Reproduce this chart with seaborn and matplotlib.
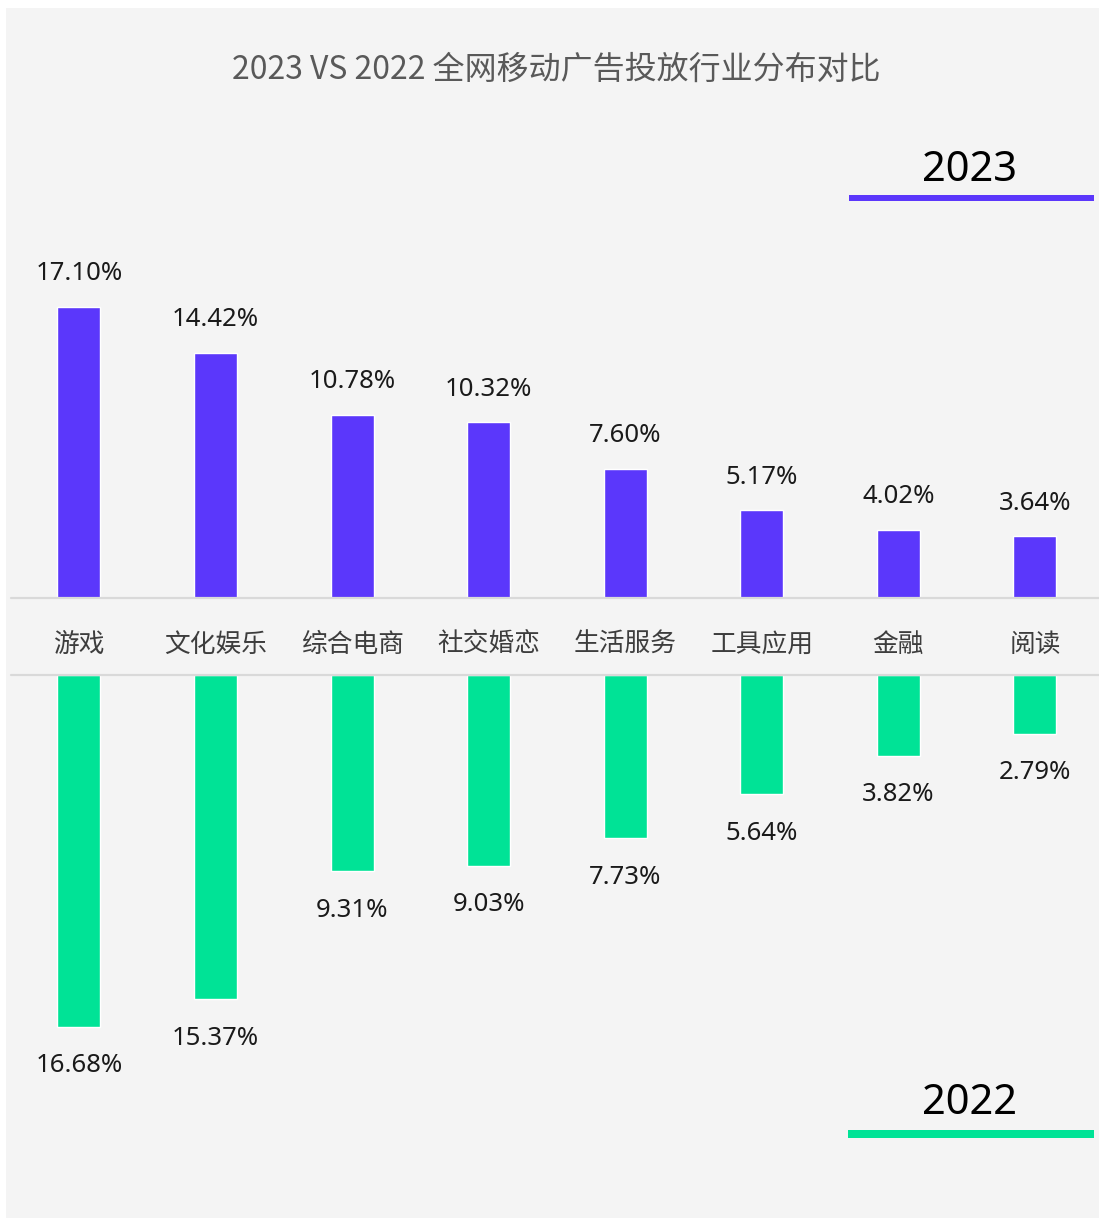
import matplotlib
matplotlib.use("Agg")
import matplotlib.pyplot as plt
import seaborn as sns
import pandas as pd
from matplotlib.patches import Rectangle

categories = ["游戏", "文化娱乐", "综合电商", "社交婚恋", "生活服务", "工具应用", "金融", "阅读"]
values_2023 = [17.10, 14.42, 10.78, 10.32, 7.60, 5.17, 4.02, 3.64]
values_2022 = [16.68, 15.37, 9.31, 9.03, 7.73, 5.64, 3.82, 2.79]
title = "2023 VS 2022 全网移动广告投放行业分布对比"
series_names = ["2023", "2022"]

sns.set_theme(style="white")
plt.rcParams['font.family'] = ['Noto Sans CJK SC', 'DejaVu Sans']
NUM_FONT = ['Noto Sans', 'DejaVu Sans']

PURPLE = "#5b37fb"
GREEN = "#00e396"
PANEL = "#f4f4f4"
LINE = "#d9d9d9"

W, H = 1099, 1220
fig = plt.figure(figsize=(W / 100, H / 100), dpi=100)
fig.patch.set_facecolor("white")

def fx(px):
    return px / W

def fy(py):
    return 1 - py / H

# panel background
fig.patches.append(Rectangle((fx(6), fy(1218)), fx(1093), (1210) / H,
                             transform=fig.transFigure, facecolor=PANEL,
                             edgecolor="none", zorder=-5))

df23 = pd.DataFrame({"cat": categories, "val": values_2023})
df22 = pd.DataFrame({"cat": categories, "val": values_2022})

spacing = (1035 - 79) / 7.0
left_px, right_px = 11, 1099
xl = -(79 - left_px) / spacing
xr = 7 + (right_px - 1035) / spacing
bar_w = 43 / spacing

# top axes: baseline at y=598, top at y=100
top_top, top_base = 100, 598
ax1 = fig.add_axes([fx(left_px), fy(top_base), fx(right_px - left_px), (top_base - top_top) / H])
ax1.set_facecolor("none")
ax1.set_zorder(2)
sns.barplot(data=df23, x="cat", y="val", color=PURPLE, width=bar_w, ax=ax1,
            saturation=1, order=categories)
ax1.set_xlim(xl, xr)
px_per_unit_top = 17.02
ax1.set_ylim(0, (top_base - top_top) / px_per_unit_top)
for i, v in enumerate(values_2023):
    ax1.text(i, v + 33 / px_per_unit_top, f"{v:.2f}%", ha="center", va="center",
             fontsize=18.5, color="#1a1a1a", family=NUM_FONT)

# bottom axes: top at y=675, bottom at y=1180
bot_top, bot_bot = 675, 1180
ax2 = fig.add_axes([fx(left_px), fy(bot_bot), fx(right_px - left_px), (bot_bot - bot_top) / H])
ax2.set_facecolor("none")
ax2.set_zorder(2)
sns.barplot(data=df22, x="cat", y="val", color=GREEN, width=bar_w, ax=ax2,
            saturation=1, order=categories)
ax2.set_xlim(xl, xr)
px_per_unit_bot = 21.1
ax2.set_ylim((bot_bot - bot_top) / px_per_unit_bot, 0)
for i, v in enumerate(values_2022):
    ax2.text(i, v + 39 / px_per_unit_bot, f"{v:.2f}%", ha="center", va="center",
             fontsize=18.5, color="#1a1a1a", family=NUM_FONT)

for ax in (ax1, ax2):
    for s in ax.spines.values():
        s.set_visible(False)
    ax.set_xticks([])
    ax.set_yticks([])
    ax.set_xlabel("")
    ax.set_ylabel("")

# separator lines
for py in (598, 675):
    fig.add_artist(plt.Line2D([fx(left_px), fx(right_px)], [fy(py), fy(py)],
                              transform=fig.transFigure, color=LINE, lw=1.6, zorder=3))

# category labels between lines
for i, c in enumerate(categories):
    xpix = 79 + i * spacing
    fig.text(fx(xpix), fy(645), c, ha="center", va="center", fontsize=18.5, color="#3d3d3d")

# title
fig.text(fx(556), fy(70), title, ha="center", va="center", fontsize=23, color="#595959")

# legend-like labels
fig.text(fx(970), fy(170), series_names[0], ha="center", va="center", fontsize=30,
         color="black", family=NUM_FONT)
fig.add_artist(Rectangle((fx(849), fy(201)), fx(245), 6 / H, transform=fig.transFigure,
                         facecolor=PURPLE, edgecolor="none"))
fig.text(fx(970), fy(1103), series_names[1], ha="center", va="center", fontsize=30,
         color="black", family=NUM_FONT)
fig.add_artist(Rectangle((fx(848), fy(1138)), fx(246), 8 / H, transform=fig.transFigure,
                         facecolor=GREEN, edgecolor="none"))

fig.savefig("out.png", dpi=100, facecolor=fig.get_facecolor())
